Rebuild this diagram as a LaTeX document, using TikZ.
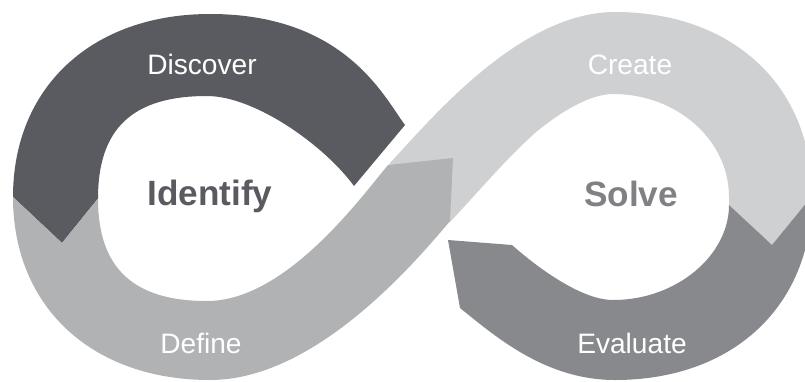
\documentclass[tikz,border=0pt]{standalone}
\usepackage{fontspec}
\setmainfont{Liberation Sans}

\definecolor{discovergray}{HTML}{5A5B60}
\definecolor{definegray}{HTML}{B1B2B4}
\definecolor{creategray}{HTML}{CFD0D2}
\definecolor{evalgray}{HTML}{88898D}
\definecolor{solvegray}{HTML}{808185}

\begin{document}
\begin{tikzpicture}[x=0.2mm, y=-0.2mm,
        phase/.style={text=white, font=\fontsize{16}{19}\selectfont, anchor=base},
        loopname/.style={font=\bfseries\fontsize{20}{24}\selectfont, anchor=base}]

        % 画布大小
        \useasboundingbox (0,0) rectangle (805,381);
        \clip (0,0) rectangle (805,381);

        % Discover: 左环上半部分
        \fill[discovergray] (405,125) .. controls (384,97) and (345,14) .. (210,14)
            .. controls (92,14) and (13,87) .. (13,197)
            -- (62,243) -- (98,198.5)
            .. controls (98,128) and (133,96) .. (207,96)
            .. controls (255,96) and (324.5,145.5) .. (354,186)
            -- cycle;

        % Create: 右环上半部分(起点压在 Define 下面)
        \fill[creategray] (372,197) -- (390,163)
            .. controls (431,119) and (520,12) .. (615,12)
            .. controls (733,12) and (812,86) .. (812,196)
            -- (772,245) -- (729,205) -- (729,197)
            .. controls (729,140) and (677,94) .. (613,94)
            .. controls (590,94) and (560,112) .. (535,133)
            .. controls (505,160) and (480,190) .. (450,222)
            -- (420,235) -- cycle;

        % Define: 左环下半部分, 箭头指向中间
        \fill[definegray] (98,198.5) .. controls (98,268) and (133,301) .. (207,301)
            .. controls (285,301) and (359,200) .. (388,165)
            -- (453,158) -- (450,221)
            .. controls (405,275) and (310,380) .. (210,380)
            .. controls (92,380) and (13,307) .. (13,197)
            -- (62,243) -- cycle;

        % Evaluate: 右环下半部分, 箭头指向中间
        \fill[evalgray] (812,196) -- (772,245) -- (729,205)
            .. controls (729,255) and (677,300) .. (613,300)
            .. controls (580,300) and (534.5,265) .. (512,245)
            -- (448,240) -- (460,308)
            .. controls (495,336) and (545,380) .. (615,380)
            .. controls (733,380) and (812,306) .. (812,196)
            -- cycle;

        % 文字
        \node[phase] (discover) at (202,74) {Discover};
        \node[phase] (define) at (201,353) {Define};
        \node[phase] (create) at (630,74) {Create};
        \node[phase] (evaluate) at (632,353) {Evaluate};
        \node[loopname, text=discovergray] (identify) at (210,205) {Identify};
        \node[loopname, text=solvegray] (solve) at (631,206) {Solve};
    \end{tikzpicture}
\end{document}
